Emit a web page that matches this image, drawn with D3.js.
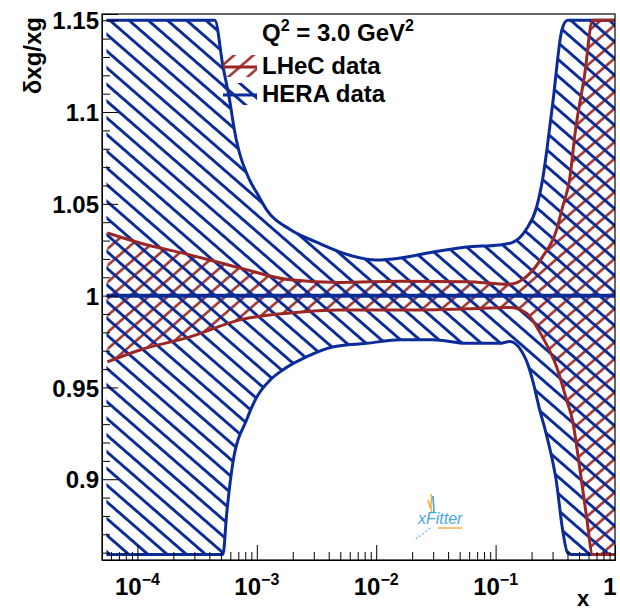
<!DOCTYPE html>
<html><head><meta charset="utf-8">
<script src="https://cdn.jsdelivr.net/npm/d3@7"></script>
<style>
body{margin:0;background:#fff}
svg{display:block}
text{font-family:"Liberation Sans",Arial,Helvetica,sans-serif;font-weight:bold;fill:#000}
</style>
</head><body>
<svg id="c" width="620" height="613"></svg>
<script>
// ---------------- data ----------------
const heraUpX = [5.5e-5, 4.45e-4, 5.2e-4, 5.9e-4, 6.5e-4, 8.7e-4, 1.0e-3, 1.2e-3, 1.9e-3, 3.2e-3, 6.0e-3, 1.0e-2, 1.6e-2, 3.0e-2, 5.7e-2, 0.108, 0.139, 0.18, 0.22, 0.247, 0.30, 0.36, 0.40, 1.0];
const heraUp  = [1.150, 1.150, 1.125, 1.107, 1.090, 1.063, 1.056, 1.047, 1.036, 1.029, 1.022, 1.0194, 1.0205, 1.0238, 1.0265, 1.0276, 1.029, 1.036, 1.048, 1.063, 1.104, 1.145, 1.150, 1.150];
const heraDnX = [5.5e-5, 5.2e-4, 5.6e-4, 6.3e-4, 8.2e-4, 1.0e-3, 1.29e-3, 1.65e-3, 2.6e-3, 4.3e-3, 8.3e-3, 1.6e-2, 3.0e-2, 5.7e-2, 0.108, 0.131, 0.18, 0.204, 0.233, 0.267, 0.324, 0.364, 0.40, 0.43, 1.0];
const heraDn  = [0.859, 0.859, 0.8816, 0.9089, 0.9323, 0.9448, 0.954, 0.9595, 0.9666, 0.972, 0.974, 0.976, 0.976, 0.974, 0.974, 0.975, 0.965, 0.954, 0.9383, 0.924, 0.898, 0.8725, 0.860, 0.859, 0.859];
const lhecUpX = [5.6e-5, 1.05e-4, 2.75e-4, 7.2e-4, 1.9e-3, 4.95e-3, 1.6e-2, 5.7e-2, 0.131, 0.18, 0.247, 0.324, 0.364, 0.416, 0.467, 0.556, 0.649, 1.0];
const lhecUp  = [1.0341, 1.0287, 1.0222, 1.0151, 1.0086, 1.0072, 1.0078, 1.0075, 1.0062, 1.0102, 1.0211, 1.0358, 1.0483, 1.063, 1.0903, 1.120, 1.150, 1.150];
const lhecDnX = [5.6e-5, 1.05e-4, 2.75e-4, 7.2e-4, 1.9e-3, 4.95e-3, 1.6e-2, 5.7e-2, 0.131, 0.18, 0.247, 0.324, 0.393, 0.44, 0.505, 0.578, 0.649, 1.0];
const lhecDn  = [0.9639, 0.9704, 0.9775, 0.9868, 0.9906, 0.9922, 0.9922, 0.9928, 0.9935, 0.9906, 0.9775, 0.9612, 0.9432, 0.9323, 0.9067, 0.8795, 0.859, 0.859];
const centralX = [5.5e-5, 1.0];
const central  = [1.0, 1.0];

const yMajor = [0.9, 0.95, 1.0, 1.05, 1.1, 1.15];
const yMajorLabels = ["0.9", "0.95", "1", "1.05", "1.1", "1.15"];
const yMinor = [0.86,0.87,0.88,0.89,0.91,0.92,0.93,0.94,0.96,0.97,0.98,0.99,1.01,1.02,1.03,1.04,1.06,1.07,1.08,1.09,1.11,1.12,1.13,1.14];
const xMajor = [1e-4, 1e-3, 1e-2, 1e-1, 1];
const xMajorBase = ["10", "10", "10", "10", "1"];
const xMajorExp  = ["\u22124", "\u22123", "\u22122", "\u22121", ""];
const xMinor = [6e-5,7e-5,8e-5,9e-5,
  2e-4,3e-4,4e-4,5e-4,6e-4,7e-4,8e-4,9e-4,
  2e-3,3e-3,4e-3,5e-3,6e-3,7e-3,8e-3,9e-3,
  2e-2,3e-2,4e-2,5e-2,6e-2,7e-2,8e-2,9e-2,
  0.2,0.3,0.4,0.5,0.6,0.7,0.8,0.9];
const legendLabels = ["LHeC data", "HERA data"];

// ---------------- layout ----------------
const L = 102, R = 615, T = 14, B = 560;
const BLUE = "#0a2c98", RED = "#9a2626";

const svg = d3.select("#c");
const x = d3.scaleLog().domain([5.05e-5, 1]).range([L, R]);
const y = d3.scaleLinear().domain([0.856, 1.1534]).range([B, T]);

// hatch patterns
const defs = svg.append("defs");
function hatch(id, angle, color, sw, sp) {
  const p = defs.append("pattern").attr("id", id)
    .attr("patternUnits", "userSpaceOnUse")
    .attr("width", 40).attr("height", sp)
    .attr("patternTransform", `rotate(${angle})`);
  p.append("line").attr("x1", 0).attr("x2", 40).attr("y1", sp/2).attr("y2", sp/2)
    .attr("stroke", color).attr("stroke-width", sw);
}
hatch("hBlue", 41, BLUE, 3, 12.6);
hatch("hRed", -41, RED, 2.3, 12.6);

defs.append("clipPath").attr("id", "frameClip").append("rect")
  .attr("x", L).attr("y", T).attr("width", R - L).attr("height", B - T);

const line = d3.line().x(d => x(d[0])).y(d => y(d[1])).curve(d3.curveMonotoneX);
const zip = (xs, ys) => xs.map((v, i) => [v, ys[i]]);

const plot = svg.append("g").attr("clip-path", "url(#frameClip)");

function drawBand(ux, uy, dx, dy, fillId) {
  const ns = "http://www.w3.org/2000/svg";
  const up = document.createElementNS(ns, "path");
  up.setAttribute("d", line(zip(ux, uy)));
  const dn = document.createElementNS(ns, "path");
  dn.setAttribute("d", line(zip(dx, dy)));
  svg.node().appendChild(up); svg.node().appendChild(dn);
  const pts = [];
  const lu = up.getTotalLength(), ld = dn.getTotalLength();
  for (let i = 0; i <= 600; i++) { const p = up.getPointAtLength(lu * i / 600); pts.push([p.x, p.y]); }
  for (let i = 600; i >= 0; i--) { const p = dn.getPointAtLength(ld * i / 600); pts.push([p.x, p.y]); }
  up.remove(); dn.remove();
  plot.append("path").attr("d", "M" + pts.map(p => p.join(",")).join("L") + "Z")
    .attr("fill", `url(#${fillId})`).attr("stroke", "none");
}

drawBand(lhecUpX, lhecUp, lhecDnX, lhecDn, "hRed");
drawBand(heraUpX, heraUp, heraDnX, heraDn, "hBlue");

// outlines
[[heraUpX, heraUp], [heraDnX, heraDn]].forEach(([xs, ys]) =>
  plot.append("path").attr("d", line(zip(xs, ys))).attr("fill", "none")
    .attr("stroke", BLUE).attr("stroke-width", 3));
[[lhecUpX, lhecUp], [lhecDnX, lhecDn]].forEach(([xs, ys]) =>
  plot.append("path").attr("d", line(zip(xs, ys))).attr("fill", "none")
    .attr("stroke", RED).attr("stroke-width", 3));
plot.append("path").attr("d", line(zip(centralX, central))).attr("fill", "none")
  .attr("stroke", BLUE).attr("stroke-width", 4);

// ---------------- axes ----------------
const gy = svg.append("g").attr("transform", `translate(${L},0)`)
  .call(d3.axisLeft(y).tickValues(yMajor).tickSize(-16).tickPadding(3)
    .tickFormat((d, i) => yMajorLabels[i]));
gy.selectAll("text").style("font-size", "24px").attr("dy", "0.36em")
  .style("font-family", '"Liberation Sans",Arial,sans-serif').style("font-weight", "bold");
const gy2 = svg.append("g").attr("transform", `translate(${L},0)`)
  .call(d3.axisLeft(y).tickValues(yMinor).tickSize(-8).tickFormat(""));
gy2.select(".domain").remove();

const gx = svg.append("g").attr("transform", `translate(0,${B})`)
  .call(d3.axisBottom(x).tickValues(xMajor).tickSize(-15).tickFormat(""));
const gx2 = svg.append("g").attr("transform", `translate(0,${B})`)
  .call(d3.axisBottom(x).tickValues(xMinor).tickSize(-8).tickFormat(""));
gx2.select(".domain").remove();
svg.selectAll(".tick line").attr("stroke", "#000").attr("stroke-width", 1);
svg.selectAll(".domain").attr("stroke", "#000");

// x tick labels with superscripts
xMajor.forEach((v, i) => {
  const px = xMajorExp[i] ? x(v) : Math.min(x(v), 610);
  const t = svg.append("text").attr("x", px).attr("y", 595)
    .attr("text-anchor", "middle").style("font-size", "24px");
  t.append("tspan").text(xMajorBase[i]);
  if (xMajorExp[i]) t.append("tspan").attr("dy", -10).style("font-size", "16px").text(xMajorExp[i]);
});

// frame
svg.append("rect").attr("x", L).attr("y", T).attr("width", R - L).attr("height", B - T)
  .attr("fill", "none").attr("stroke", "#000").attr("stroke-width", 1.2);

// axis titles
svg.append("text").attr("transform", `translate(41,17) rotate(-90)`)
  .attr("text-anchor", "end").style("font-size", "24px").text("\u03b4xg/xg");
svg.append("text").attr("x", 583).attr("y", 606).attr("text-anchor", "middle")
  .style("font-size", "22px").text("x");

// ---------------- legend ----------------
const q = svg.append("text").attr("x", 262).attr("y", 41).style("font-size", "24px");
q.append("tspan").text("Q");
q.append("tspan").attr("dy", -10).style("font-size", "16px").text("2");
q.append("tspan").attr("dy", 10).text(" = 3.0 GeV");
q.append("tspan").attr("dy", -10).style("font-size", "16px").text("2");

const legY = [66, 94];
const legFill = ["hRed", "hBlue"];
const legCol = [RED, BLUE];
legendLabels.forEach((lab, i) => {
  svg.append("rect").attr("x", 223).attr("y", legY[i] - 11).attr("width", 34).attr("height", 22)
    .attr("fill", `url(#${legFill[i]})`);
  svg.append("line").attr("x1", 223).attr("x2", 257).attr("y1", legY[i] + 1).attr("y2", legY[i] + 1)
    .attr("stroke", legCol[i]).attr("stroke-width", 3);
  svg.append("text").attr("x", 262).attr("y", legY[i] + 8).style("font-size", "24px").text(lab);
});

// ---------------- xFitter logo ----------------
const logo = svg.append("g");
logo.append("path").attr("d", "M431,494 C433,500 429,505 432,512 M428,500 l2,8")
  .attr("stroke", "#f0b040").attr("stroke-width", 1.5).attr("fill", "none");
logo.append("path").attr("d", "M433,496 L434,512").attr("stroke", "#3a9ad8").attr("stroke-width", 1.5);
logo.append("text").attr("x", 418).attr("y", 524).style("font-size", "16px")
  .style("font-style", "italic").style("font-weight", "normal").style("fill", "#4aa6e0").text("xFitter");
logo.append("path").attr("d", "M438,528 L462,528").attr("stroke", "#f0b040").attr("stroke-width", 1.5);
logo.append("path").attr("d", "M430,528 C425,533 420,536 414,540").attr("stroke", "#7ec0ee")
  .attr("stroke-width", 1.5).attr("stroke-dasharray", "2,2").attr("fill", "none");
</script>
</body></html>
